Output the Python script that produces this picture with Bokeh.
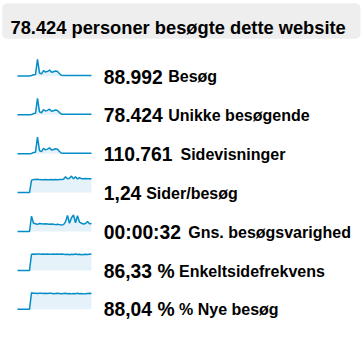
from bokeh.plotting import figure
from bokeh.models import Range1d, BoxAnnotation
from bokeh.core.properties import value
from bokeh.embed import file_html
from bokeh.resources import INLINE

# ---------------- data ----------------
title_text = "78.424 personer besøgte dette website"
metric_values = ["88.992", "78.424", "110.761", "1,24", "00:00:32", "86,33 %", "88,04 %"]
metric_labels = ["Besøg", "Unikke besøgende", "Sidevisninger", "Sider/besøg",
                 "Gns. besøgsvarighed", "Enkeltsidefrekvens", "% Nye besøg"]
days = list(range(38))

visits = [0, 0, 0, 0, 0, 0, 0, 300, 1200, 1500, 16800, 3000, 2100, 5400, 3900, 4600,
          5900, 3600, 4300, 5000, 4400, 2200, 600, 500, 450, 520, 480, 500, 470, 510,
          490, 460, 500, 480, 520, 490, 470, 500]
unique_visitors = [0, 0, 0, 0, 0, 0, 0, 280, 1100, 1350, 15200, 2700, 1900, 4800, 3500,
                   4100, 5200, 3200, 3800, 4500, 3900, 2000, 550, 450, 420, 470, 440, 450,
                   430, 460, 440, 420, 450, 430, 470, 440, 430, 450]
pageviews = [0, 0, 0, 0, 0, 0, 0, 380, 1500, 1850, 20500, 3700, 2600, 6700, 4800, 5700,
             7300, 4500, 5300, 6200, 5500, 2700, 750, 620, 560, 650, 600, 620, 590, 640,
             610, 570, 620, 600, 650, 610, 590, 620]
pages_per_visit = [0, 0, 0, 0, 0, 0, 0, 1.12, 1.18, 1.19, 1.21, 1.18, 1.17, 1.16, 1.18,
                   1.17, 1.16, 1.18, 1.17, 1.18, 1.17, 1.19, 1.20, 1.21, 1.45, 1.25, 1.30,
                   1.50, 1.25, 1.45, 1.24, 1.35, 1.27, 1.26, 1.28, 1.25, 1.27, 1.26]
avg_duration = [0, 0, 0, 0, 0, 0, 0, 56, 30, 28, 26, 29, 28, 27, 28, 27, 26, 27, 26, 25,
                26, 25, 24, 25, 35, 58, 30, 50, 60, 32, 57, 34, 30, 27, 29, 36, 28, 29]
bounce_rate = [0, 0, 0, 0, 0, 0, 0, 86, 87, 86, 88, 87, 86, 87, 86, 87, 86, 86, 87, 86,
               87, 86, 87, 86, 85, 86, 84, 86, 85, 87, 85, 86, 84, 85, 86, 85, 86, 87]
new_visits = [0, 0, 0, 0, 0, 0, 0, 92, 89, 90, 88, 89, 90, 88, 89, 88, 90, 89, 87, 88,
              89, 88, 87, 88, 89, 87, 88, 86, 88, 87, 89, 87, 88, 86, 87, 88, 89, 88]

series = [visits, unique_visitors, pageviews, pages_per_visit, avg_duration,
          bounce_rate, new_visits]

# ---------------- layout / style ----------------
W, H = 361, 351
FONT = value("Liberation Sans")
LINE_COLOR = "#058dc7"
FILL_COLOR = "#e6f2fa"
text_y = [76 + 38.9 * k for k in range(7)]
value_x = 103.3
label_x = [167.7, 167.7, 180.0, 145.7, 187.7, 178.5, 178.5]
spark_left, spark_right, spark_h = 17, 91, 16.5

p = figure(width=W, height=H, x_range=Range1d(0, W), y_range=Range1d(H, 0),
           title=None, output_backend="svg", toolbar_location=None,
           min_border=0, x_axis_location=None, y_axis_location=None,
           outline_line_color=None, background_fill_color="white",
           border_fill_color="white")
p.grid.visible = False

# title box
p.add_layout(BoxAnnotation(left=1.7, right=360, top=2.7, bottom=38.3,
                           fill_color="#eeeeee", fill_alpha=1, line_color=None,
                           border_radius=5, level="underlay"))
p.text(x=[10], y=[26.7], text=[title_text], text_font=FONT, text_font_style="bold",
       text_font_size="18.3px", text_baseline="alphabetic", text_color="#000000")

# sparkline ranges
n = len(days)
span_x = (n - 1) * W / (spark_right - spark_left)
sx = -spark_left / W * span_x
p.extra_x_ranges = {"spark_x": Range1d(sx, sx + span_x)}
yr = {}
for k, data in enumerate(series):
    base = text_y[k] - 0.6
    vmax = max(data)
    span = vmax * H / spark_h
    e = base * span / H
    yr[f"spark_y{k}"] = Range1d(e - span, e)
p.extra_y_ranges = yr

for k, data in enumerate(series):
    p.varea(x=days, y1=0, y2=data, fill_color=FILL_COLOR,
            x_range_name="spark_x", y_range_name=f"spark_y{k}")
    p.line(x=days, y=data, line_color=LINE_COLOR, line_width=1.5,
           x_range_name="spark_x", y_range_name=f"spark_y{k}")

# metric texts
p.text(x=[value_x] * 7, y=text_y, text=metric_values, text_font=FONT,
       text_font_style="bold", text_font_size="19.3px", text_baseline="alphabetic",
       text_color="#000000")
p.text(x=label_x, y=text_y, text=metric_labels, text_font=FONT,
       text_font_style="bold", text_font_size="16px", text_baseline="alphabetic",
       text_color="#000000")

open("out.html", "w").write(file_html(p, INLINE))
